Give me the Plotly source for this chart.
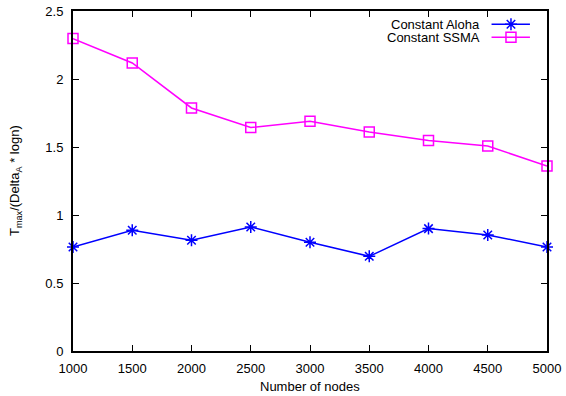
import plotly.graph_objects as go

# Number of nodes on the x axis
nodes = [1000, 1500, 2000, 2500, 3000, 3500, 4000, 4500, 5000]

# Normalised maximum time for each protocol
aloha = [0.765, 0.888, 0.814, 0.912, 0.80, 0.696, 0.90, 0.853, 0.765]
ssma = [2.297, 2.118, 1.787, 1.643, 1.69, 1.61, 1.547, 1.507, 1.36]

series_names = ["Constant Aloha", "Constant SSMA"]
series_colors = ["#0000ff", "#ff00ff"]
series_symbols = ["asterisk-open", "square-open"]

y_ticks = [0, 0.5, 1, 1.5, 2, 2.5]
y_tick_text = ["0", "0.5", "1", "1.5", "2", "2.5"]
x_ticks = nodes

x_title = "Number of nodes"
y_title = "T<sub>max</sub>/(Delta<sub>A</sub> * logn)"

FONT = "Liberation Sans, Arial, sans-serif"

fig = go.Figure()

for name, vals, col, sym in zip(series_names, [aloha, ssma], series_colors, series_symbols):
    fig.add_trace(go.Scatter(
        x=nodes, y=vals, mode="lines+markers", name=name,
        line=dict(color=col, width=1.5),
        marker=dict(symbol=sym, size=10, color=col, line=dict(color=col, width=1.5)),
        showlegend=False, cliponaxis=False,
    ))

# Key in the top-right corner: label text on the left, sample on the right
key_rows = [0.961, 0.923]
for name, col, sym, ky in zip(series_names, series_colors, series_symbols, key_rows):
    fig.add_trace(go.Scatter(
        x=[0.883, 0.964], y=[ky, ky], mode="lines", xaxis="x2", yaxis="y2",
        line=dict(color=col, width=1.5), showlegend=False, hoverinfo="skip",
    ))
    fig.add_trace(go.Scatter(
        x=[0.924], y=[ky], mode="markers", xaxis="x2", yaxis="y2",
        marker=dict(symbol=sym, size=10, color=col, line=dict(color=col, width=1.5)),
        showlegend=False, hoverinfo="skip",
    ))
    fig.add_annotation(
        x=0.862, y=ky, xref="x2", yref="y2", text=name, showarrow=False,
        xanchor="right", yanchor="middle", font=dict(family=FONT, size=13, color="black"),
    )

# Axis titles
fig.add_annotation(
    x=0.5, y=0, xref="paper", yref="paper", yshift=-35, text=x_title, showarrow=False,
    xanchor="center", yanchor="middle", font=dict(family=FONT, size=13, color="black"),
)
fig.add_annotation(
    x=0, y=0.5, xref="paper", yref="paper", xshift=-58, text=y_title, showarrow=False,
    textangle=-90, xanchor="center", yanchor="middle",
    font=dict(family=FONT, size=13, color="black"),
)

axis_common = dict(
    showgrid=False, zeroline=False, showline=True, linecolor="black", linewidth=2,
    mirror="allticks", ticks="inside", ticklen=6, tickwidth=1, tickcolor="black",
    tickfont=dict(family=FONT, size=13, color="black"), automargin=False,
)

fig.update_layout(
    template="none",
    width=566, height=396,
    margin=dict(l=73, r=19, t=11, b=45),
    paper_bgcolor="white", plot_bgcolor="white",
    font=dict(family=FONT, size=13, color="black"),
    xaxis=dict(range=[1000, 5000], tickvals=x_ticks, ticklabelstandoff=4, **axis_common),
    yaxis=dict(range=[0, 2.5], tickvals=y_ticks, ticktext=y_tick_text, ticklabelstandoff=5, **axis_common),
    xaxis2=dict(range=[0, 1], overlaying="x", visible=False, fixedrange=True),
    yaxis2=dict(range=[0, 1], overlaying="y", visible=False, fixedrange=True),
)

fig.write_html("out.html")
